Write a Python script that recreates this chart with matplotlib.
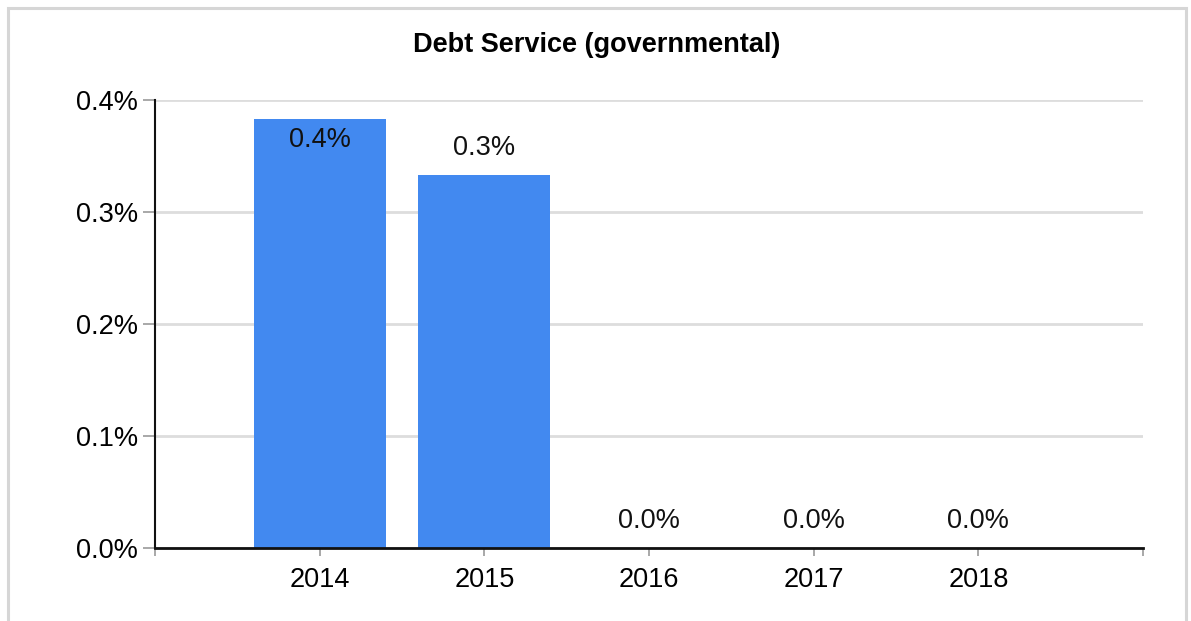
import matplotlib
matplotlib.use("Agg")
import matplotlib.pyplot as plt
from matplotlib.patches import Rectangle
from matplotlib.ticker import FuncFormatter

categories = ["2014", "2015", "2016", "2017", "2018"]
values = [0.383, 0.333, 0.0, 0.0, 0.0]
labels = ["0.4%", "0.3%", "0.0%", "0.0%", "0.0%"]
yticks = [0.0, 0.1, 0.2, 0.3, 0.4]
title = "Debt Service (governmental)"

plt.rcParams['font.family'] = ['Liberation Sans', 'DejaVu Sans']

fig = plt.figure(figsize=(11.91, 6.21), dpi=100)
fig.patches.append(Rectangle((8/1191, -0.05), (1186-8)/1191, 1.05 - 8/621,
                             transform=fig.transFigure, fill=False,
                             edgecolor='#d6d6d6', linewidth=2.2, zorder=0))
ax = fig.add_axes([155/1191, 1-548/621, (1143-155)/1191, (548-100)/621])

x = list(range(len(categories)))
ax.bar(x, values, width=0.8, color='#4289f0', zorder=2)
ax.set_xlim(-1, len(categories))
ax.set_ylim(0, 0.4)

for xi, v, lab in zip(x, values, labels):
    if v > 0.36:
        ax.annotate(lab, (xi, v), xytext=(0, -5.5), textcoords='offset points',
                    ha='center', va='top', fontsize=19.5, color='#111111', zorder=3)
    else:
        ax.annotate(lab, (xi, v), xytext=(0, 10), textcoords='offset points',
                    ha='center', va='bottom', fontsize=19.5, color='#111111', zorder=3)

ax.set_yticks(yticks)
ax.yaxis.set_major_formatter(FuncFormatter(lambda v, p: f"{v:.1f}%"))
ax.set_xticks([-1] + x + [len(categories)])
ax.set_xticklabels([""] + categories + [""])
ax.tick_params(axis='y', length=9, width=1.2, color='#999999', labelsize=19.5, pad=3)
ax.tick_params(axis='x', length=6, width=1.2, color='#999999', labelsize=19.5, pad=8, direction='out')

ax.grid(axis='y', color='#dddddd', linewidth=2, zorder=0)
ax.set_axisbelow(True)
for s in ['top', 'right']:
    ax.spines[s].set_visible(False)
ax.spines['left'].set_color('#111111')
ax.spines['left'].set_linewidth(1.5)
ax.spines['bottom'].set_color('#111111')
ax.spines['bottom'].set_linewidth(2)
ax.spines['bottom'].set_zorder(4)

fig.text(597/1191, 1-45/621, title, ha='center', va='center', fontsize=19.5, fontweight='bold')

fig.savefig("out.png", dpi=100)
